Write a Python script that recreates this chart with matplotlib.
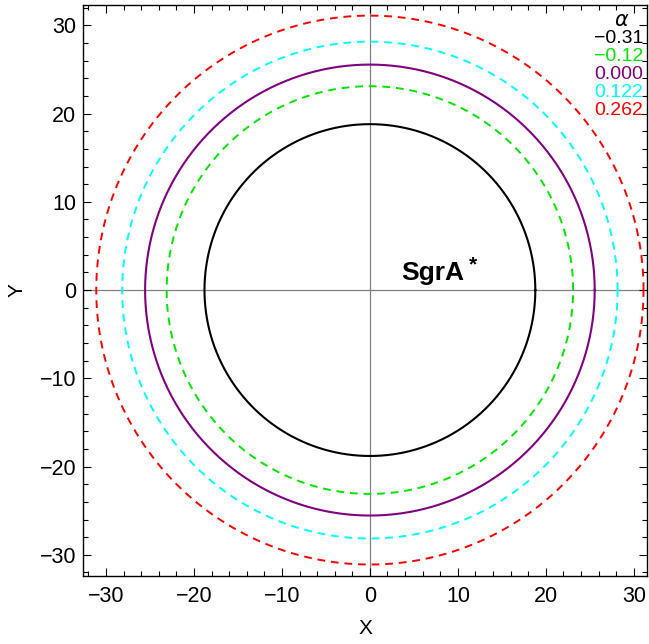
import numpy as np
import matplotlib
matplotlib.use('Agg')
import matplotlib.pyplot as plt
from matplotlib.ticker import MultipleLocator

plt.rcParams['font.family'] = ['Liberation Sans', 'DejaVu Sans']

# shadow radii for each alpha
alphas = ['\u22120.31', '\u22120.12', '0.000', '0.122', '0.262']
radii = [18.8, 23.1, 25.55, 28.15, 31.1]
colors = ['black', '#00e600', '#800080', '#00ffff', '#ff0000']
styles = ['-', '--', '-', '--', '--']

fig = plt.figure(figsize=(6.49, 6.44), dpi=100)
ax = fig.add_axes([0.128, 0.1056, 0.869, 0.8866])

theta = np.linspace(0, 2 * np.pi, 721)
for r, c, ls in zip(radii, colors, styles):
    if ls == '--':
        ax.plot(r * np.cos(theta), r * np.sin(theta), color=c, lw=1.4,
                dashes=(4, 3))
    else:
        ax.plot(r * np.cos(theta), r * np.sin(theta), color=c, lw=1.5)

ax.axhline(0, color='#808080', lw=0.9, zorder=0)
ax.axvline(0, color='#808080', lw=0.9, zorder=0)

ax.set_xlim(-32.6, 31.5)
ax.set_ylim(-32.4, 32.3)

ax.xaxis.set_major_locator(MultipleLocator(10))
ax.yaxis.set_major_locator(MultipleLocator(10))
ax.xaxis.set_minor_locator(MultipleLocator(2))
ax.yaxis.set_minor_locator(MultipleLocator(2))
ax.tick_params(which='both', direction='in', top=True, right=True,
               labelsize=15.5, width=0.8)
ax.tick_params(which='major', length=6)
ax.tick_params(which='minor', length=3.5)
ax.tick_params(axis='x', pad=7)
ax.tick_params(axis='y', pad=5)
for s in ax.spines.values():
    s.set_linewidth(1.0)

ax.set_xlabel('X', fontsize=15, labelpad=9)
ax.set_ylabel('Y', fontsize=15, labelpad=9, rotation=90)

ax.text(3.6, 1.1, 'SgrA', fontsize=19, fontweight='bold')
ax.text(11.2, 3.9, '*', fontsize=15, fontweight='bold', va='top')

# legend as stacked coloured labels
ax.text(0.955, (576 - 20) / 571, r'$\alpha$', transform=ax.transAxes,
        fontsize=15, ha='center', va='center')
ys = [38, 56, 74, 92, 110]
for lab, c, py in zip(alphas, colors, ys):
    ax.text(0.993, (576 - py) / 571, lab, transform=ax.transAxes,
            color=c, fontsize=14, ha='right', va='center')

fig.savefig('out.png', dpi=100)
